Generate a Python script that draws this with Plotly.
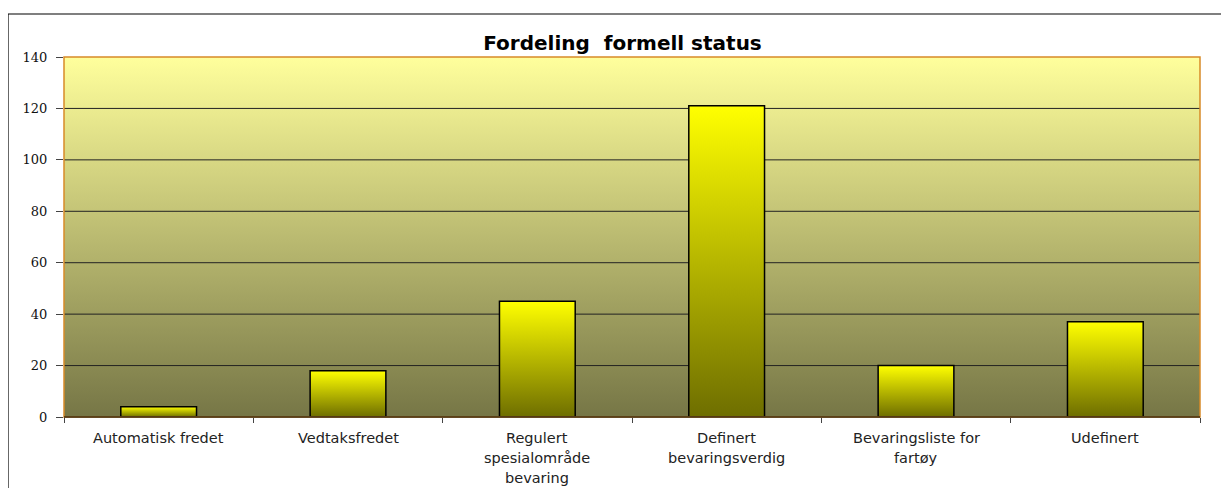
import plotly.graph_objects as go

categories = ["Automatisk fredet", "Vedtaksfredet", "Regulert<br>spesialområde<br>bevaring",
              "Definert<br>bevaringsverdig", "Bevaringsliste for<br>fartøy", "Udefinert"]
values = [4, 18, 45, 121, 20, 37]
y_ticks = [0, 20, 40, 60, 80, 100, 120, 140]
title_text = "Fordeling  formell status"

n = len(categories)
xs = list(range(n))
half = 0.2
ymax = y_ticks[-1]

fig = go.Figure()

# plot-area gradient background
fig.add_trace(go.Scatter(
    x=[-0.5, n - 0.5, n - 0.5, -0.5, -0.5], y=[0, 0, ymax, ymax, 0],
    mode="lines", fill="toself", line=dict(width=0),
    fillgradient=dict(type="vertical", colorscale=[[0, "#767646"], [1, "#ffff9c"]]),
    hoverinfo="skip", showlegend=False))

# gridlines
gx, gy = [], []
for t in y_ticks[1:-1]:
    gx += [-0.5, n - 0.5, None]
    gy += [t, t, None]
fig.add_trace(go.Scatter(x=gx, y=gy, mode="lines", line=dict(color="#222222", width=1),
                         hoverinfo="skip", showlegend=False))

# bars with vertical gradient
for i, v in zip(xs, values):
    fig.add_trace(go.Scatter(
        x=[i - half, i + half, i + half, i - half, i - half], y=[0, 0, v, v, 0],
        mode="lines", fill="toself", line=dict(color="#000000", width=1.5),
        fillgradient=dict(type="vertical", colorscale=[[0, "#6e6e00"], [1, "#ffff00"]]),
        hoverinfo="skip", showlegend=False))

# category labels (one annotation per line for 20px line spacing)
annotations = []
for i, cat in zip(xs, categories):
    for k, line in enumerate(cat.split("<br>")):
        annotations.append(dict(
            x=i, xref="x", y=0, yref="paper", yanchor="top", xanchor="center",
            yshift=-11 - 20 * k, text=line, showarrow=False,
            font=dict(family="DejaVu Sans", size=14.5, color="#222")))

fig.update_layout(
    width=1229, height=488,
    margin=dict(l=56, r=37, t=49, b=79),
    paper_bgcolor="white", plot_bgcolor="white",
    title=dict(text="<b>" + title_text + "</b>", x=0.5, xanchor="center", y=0.928, yanchor="middle",
               font=dict(family="DejaVu Sans", size=20, color="#000")),
    xaxis=dict(range=[-0.5, n - 0.5], tickvals=xs, showticklabels=False, ticks="", showgrid=False,
               zeroline=False, showline=False,
               minor=dict(tick0=-0.5, dtick=1, ticks="outside", ticklen=5, tickcolor="#444", showgrid=False)),
    yaxis=dict(range=[0, ymax], tickvals=y_ticks, ticks="outside", ticklen=7, tickcolor="#444",
               showgrid=False, zeroline=False, showline=False, ticklabelstandoff=6,
               tickfont=dict(family="DejaVu Serif", size=13, color="#111")),
    annotations=annotations,
    shapes=[
        dict(type="rect", xref="paper", yref="paper", x0=0, x1=1, y0=0, y1=1,
             line=dict(color="#d88a28", width=1.5), layer="above"),
        dict(type="line", xref="paper", yref="paper", x0=0, x1=1, y0=0, y1=0,
             line=dict(color="#3a2a10", width=1.5), layer="above"),
        dict(type="rect", xref="paper", yref="paper", x0=-0.0493, x1=1.3, y0=-0.6, y1=1.1194,
             line=dict(color="#000", width=1.2), layer="above"),
    ],
)

fig.write_html("out.html")
